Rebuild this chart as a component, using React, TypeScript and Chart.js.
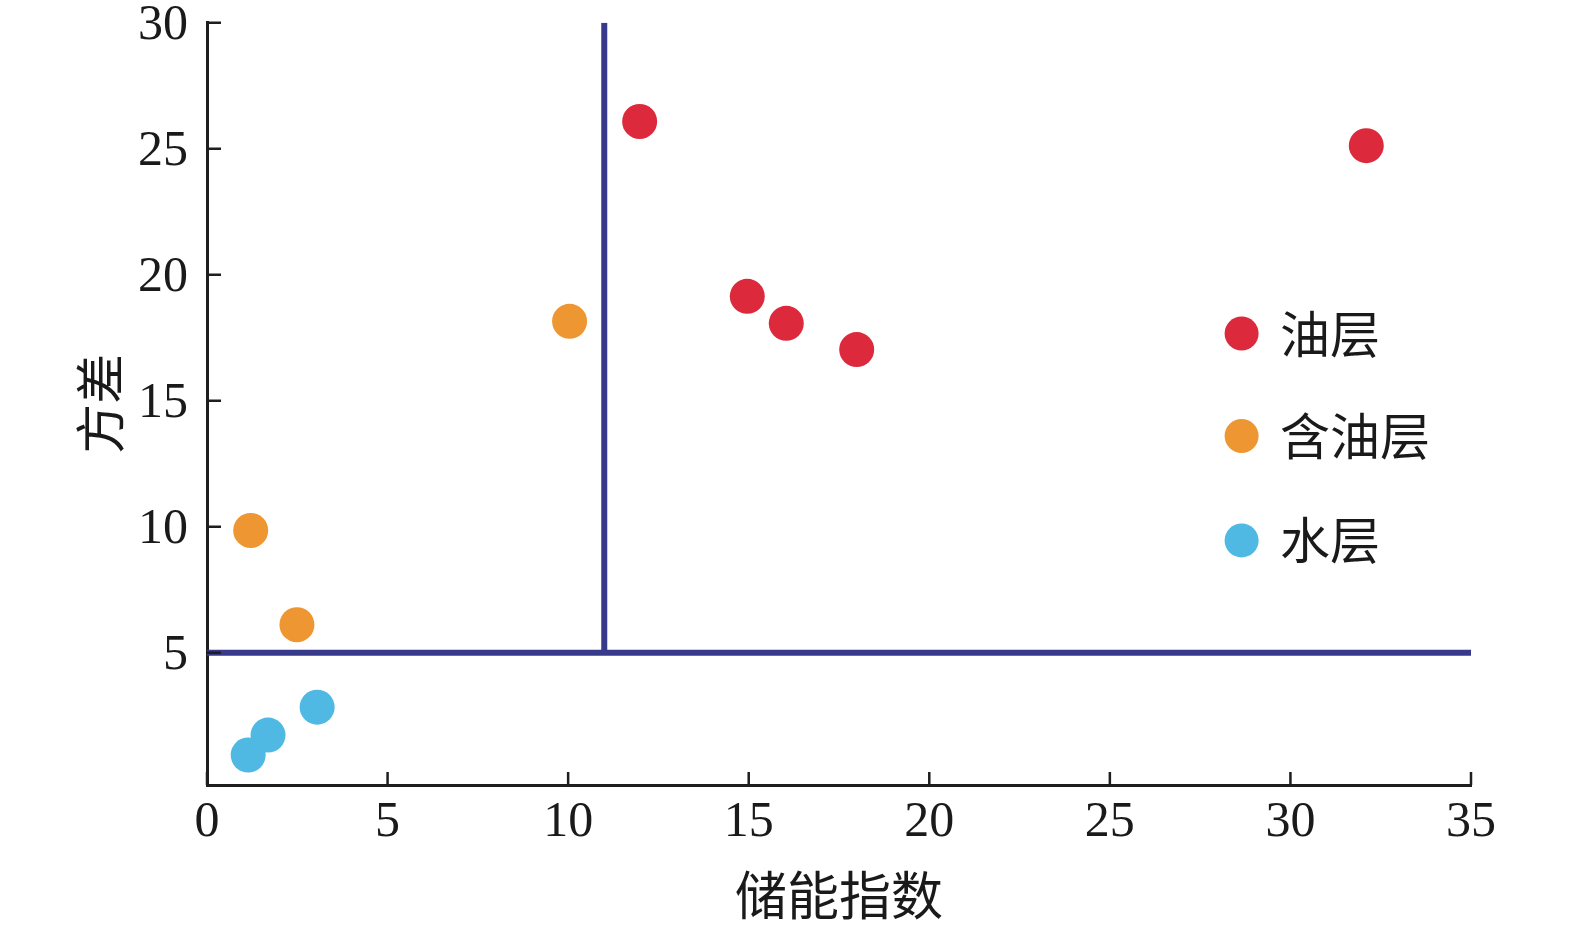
import React, { useEffect, useRef } from "react";
import { Chart, registerables } from "chart.js";

Chart.register(...registerables);

// ---- data ----
const seriesNames = ["油层", "含油层", "水层"];
const seriesColors = ["#dc2a3c", "#ee9632", "#4fb9e3"];
const oilX = [11.98, 14.96, 16.04, 17.99, 32.1];
const oilY = [26.08, 19.14, 18.07, 17.03, 25.12];
const oilBearingX = [10.04, 1.21, 2.49];
const oilBearingY = [18.15, 9.85, 6.11];
const waterX = [3.05, 1.69, 1.14];
const waterY = [2.84, 1.73, 0.94];
const xTicks = [0, 5, 10, 15, 20, 25, 30, 35];
const yTicks = [5, 10, 15, 20, 25, 30];
const cutoffX = 11;
const cutoffY = 5;
const xTitle = "储能指数";
const yTitle = "方差";

const FONT = '"Liberation Serif", "Noto Sans CJK SC", serif';
const CJK = '"Noto Sans CJK SC", "Liberation Serif", sans-serif';
const AXIS = "#1e1e1e";
const LINE = "#37398a";

const toPts = (xs: number[], ys: number[]) => xs.map((x, i) => ({ x, y: ys[i] }));

const inwardTicks = {
  id: "inwardTicks",
  afterDraw(chart: any) {
    const { ctx, chartArea } = chart;
    const xs = chart.scales.x;
    const ys = chart.scales.y;
    ctx.save();
    ctx.strokeStyle = AXIS;
    ctx.lineWidth = 2.5;
    ctx.beginPath();
    xs.ticks.forEach((t: any) => {
      const px = xs.getPixelForValue(t.value);
      ctx.moveTo(px, chartArea.bottom);
      ctx.lineTo(px, chartArea.bottom - 13);
    });
    ys.ticks.forEach((t: any) => {
      const py = ys.getPixelForValue(t.value);
      ctx.moveTo(chartArea.left, py);
      ctx.lineTo(chartArea.left + 14, py);
    });
    ctx.stroke();
    ctx.restore();
  },
};

const sideLegend = {
  id: "sideLegend",
  afterDraw(chart: any) {
    const { ctx } = chart;
    const dotX = 1241.6;
    const textX = 1280;
    const rows = [333.5, 436, 540.4];
    ctx.save();
    chart.data.datasets
      .filter((d: any) => seriesNames.includes(d.label))
      .forEach((d: any, i: number) => {
        ctx.fillStyle = d.backgroundColor;
        ctx.beginPath();
        ctx.arc(dotX, rows[i], 17, 0, Math.PI * 2);
        ctx.fill();
        ctx.fillStyle = "#1a1a1a";
        ctx.font = `50px ${CJK}`;
        ctx.textBaseline = "middle";
        ctx.textAlign = "left";
        ctx.fillText(d.label, textX, rows[i]);
      });
    ctx.restore();
  },
};

export default function App() {
  const ref = useRef<HTMLCanvasElement | null>(null);

  useEffect(() => {
    if (!ref.current) return;
    const chart = new Chart(ref.current, {
      type: "scatter",
      data: {
        datasets: [
          {
            label: "cutH",
            data: [
              { x: 0, y: cutoffY },
              { x: 35, y: cutoffY },
            ],
            showLine: true,
            borderColor: LINE,
            borderWidth: 6,
            pointRadius: 0,
            backgroundColor: LINE,
          } as any,
          {
            label: "cutV",
            data: [
              { x: cutoffX, y: cutoffY },
              { x: cutoffX, y: 30 },
            ],
            showLine: true,
            borderColor: LINE,
            borderWidth: 6,
            pointRadius: 0,
            backgroundColor: LINE,
          } as any,
          {
            label: seriesNames[0],
            data: toPts(oilX, oilY),
            backgroundColor: seriesColors[0],
            pointRadius: 17.5,
            borderWidth: 0,
          },
          {
            label: seriesNames[1],
            data: toPts(oilBearingX, oilBearingY),
            backgroundColor: seriesColors[1],
            pointRadius: 17.5,
            borderWidth: 0,
          },
          {
            label: seriesNames[2],
            data: toPts(waterX, waterY),
            backgroundColor: seriesColors[2],
            pointRadius: 17.5,
            borderWidth: 0,
          },
        ],
      },
      options: {
        responsive: false,
        animation: false,
        layout: { padding: { left: 0, top: 22.7, right: 104, bottom: 0 } },
        plugins: {
          legend: { display: false },
          tooltip: { enabled: false },
        },
        scales: {
          x: {
            type: "linear",
            min: 0,
            max: 35,
            grid: { display: false, drawTicks: false },
            border: { display: true, color: AXIS, width: 3 },
            ticks: {
              color: "#1a1a1a",
              padding: 8,
              font: { family: FONT, size: 50 },
            },
            title: {
              display: true,
              text: xTitle,
              color: "#1a1a1a",
              font: { family: CJK, size: 52 },
              padding: { top: 0, bottom: 0 },
            },
            afterBuildTicks: (s: any) => {
              s.ticks = xTicks.map((v) => ({ value: v }));
            },
            afterFit: (s: any) => {
              s.height = 141;
              s.paddingLeft = 0;
              s.paddingRight = 0;
            },
          },
          y: {
            type: "linear",
            min: -0.25,
            max: 30,
            grid: { display: false, drawTicks: false },
            border: { display: true, color: AXIS, width: 3 },
            ticks: {
              color: "#1a1a1a",
              padding: 19,
              labelOffset: 3,
              font: { family: FONT, size: 50 },
            },
            title: {
              display: true,
              text: yTitle,
              color: "#1a1a1a",
              font: { family: CJK, size: 50 },
              padding: { top: 70, bottom: 0 },
            },
            afterBuildTicks: (s: any) => {
              s.ticks = yTicks.map((v) => ({ value: v }));
            },
            afterFit: (s: any) => {
              s.width = 207;
              s.paddingTop = 0;
              s.paddingBottom = 0;
            },
          },
        },
      },
      plugins: [inwardTicks, sideLegend],
    });
    return () => chart.destroy();
  }, []);

  return (
    <canvas
      ref={ref}
      width={1575}
      height={926}
      style={{ position: "absolute", left: 0, top: 0, display: "block", background: "#fff" }}
    />
  );
}
